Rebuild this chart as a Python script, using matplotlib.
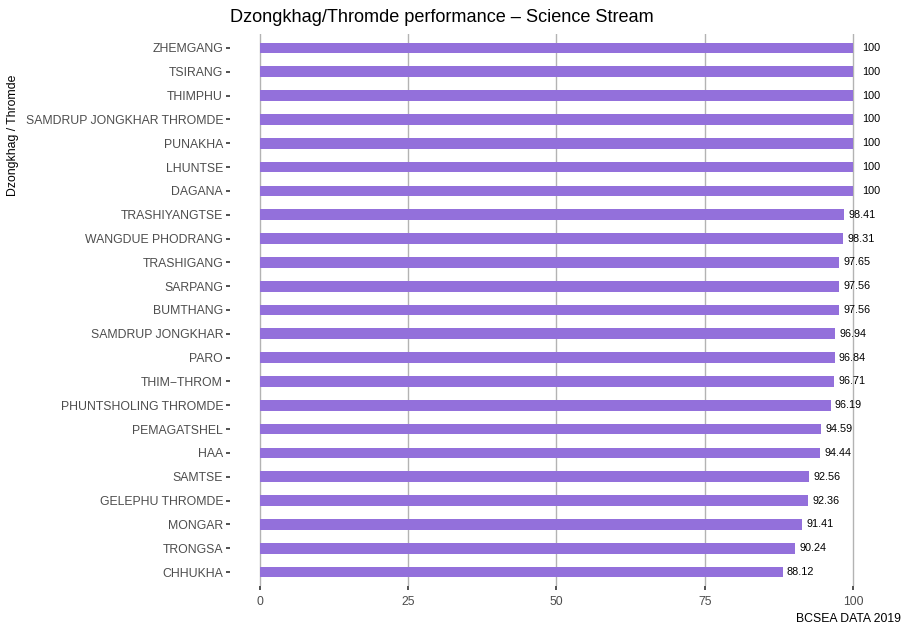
import matplotlib
matplotlib.use("Agg")
import matplotlib.pyplot as plt
import numpy as np

plt.rcParams['font.family'] = ['Liberation Sans', 'DejaVu Sans']

categories = ["ZHEMGANG", "TSIRANG", "THIMPHU", "SAMDRUP JONGKHAR THROMDE", "PUNAKHA",
              "LHUNTSE", "DAGANA", "TRASHIYANGTSE", "WANGDUE PHODRANG", "TRASHIGANG",
              "SARPANG", "BUMTHANG", "SAMDRUP JONGKHAR", "PARO", "THIM\u2212THROM",
              "PHUNTSHOLING THROMDE", "PEMAGATSHEL", "HAA", "SAMTSE", "GELEPHU THROMDE",
              "MONGAR", "TRONGSA", "CHHUKHA"]
values = [100, 100, 100, 100, 100, 100, 100, 98.41, 98.31, 97.65, 97.56, 97.56,
          96.94, 96.84, 96.71, 96.19, 94.59, 94.44, 92.56, 92.36, 91.41, 90.24, 88.12]
value_labels = ["100", "100", "100", "100", "100", "100", "100", "98.41", "98.31", "97.65",
                "97.56", "97.56", "96.94", "96.84", "96.71", "96.19", "94.59", "94.44",
                "92.56", "92.36", "91.41", "90.24", "88.12"]
x_ticks = [0, 25, 50, 75, 100]

fig = plt.figure(figsize=(9.03, 6.25), dpi=100)
ax = fig.add_axes([230/903, 1 - 586.3/625, (883 - 230)/903, (586.3 - 33.7)/625])

n = len(categories)
ypos = np.arange(n)[::-1]
ax.barh(ypos, values, height=0.45, color='#9370DB', zorder=2)
for y, v, lab in zip(ypos, values, value_labels):
    ax.text(v + 3, y, lab, ha='center', va='center', fontsize=7.8, color='black', zorder=3)

for t in x_ticks:
    ax.axvline(t, color='#b3b3b3', lw=1.0, zorder=1)

ax.set_xlim(-5, 105)
ax.set_ylim(-0.6, n - 1 + 0.6)
ax.set_yticks(ypos)
ax.set_yticklabels(categories)
ax.set_xticks(x_ticks)
ax.set_xticklabels([str(t) for t in x_ticks])
for s in ax.spines.values():
    s.set_visible(False)
ax.tick_params(axis='both', colors='#333333', labelcolor='#4d4d4d', labelsize=8.8,
               length=3, width=1.2)
ax.tick_params(axis='x', pad=4)
ax.tick_params(axis='y', pad=2)
ax.set_ylabel("Dzongkhag / Thromde", fontsize=8.8, color='black')
ax.yaxis.set_label_coords((19 - 230)/653, (586.3 - 135)/552.6)

fig.text(230/903, 1 - 17/625, "Dzongkhag/Thromde performance \u2013 Science Stream",
         fontsize=13.1, ha='left', va='center', color='black')
fig.text(901/903, 1 - 619/625, "BCSEA DATA 2019", fontsize=8.8,
         ha='right', va='center', color='black')

fig.savefig("out.png", dpi=100)
